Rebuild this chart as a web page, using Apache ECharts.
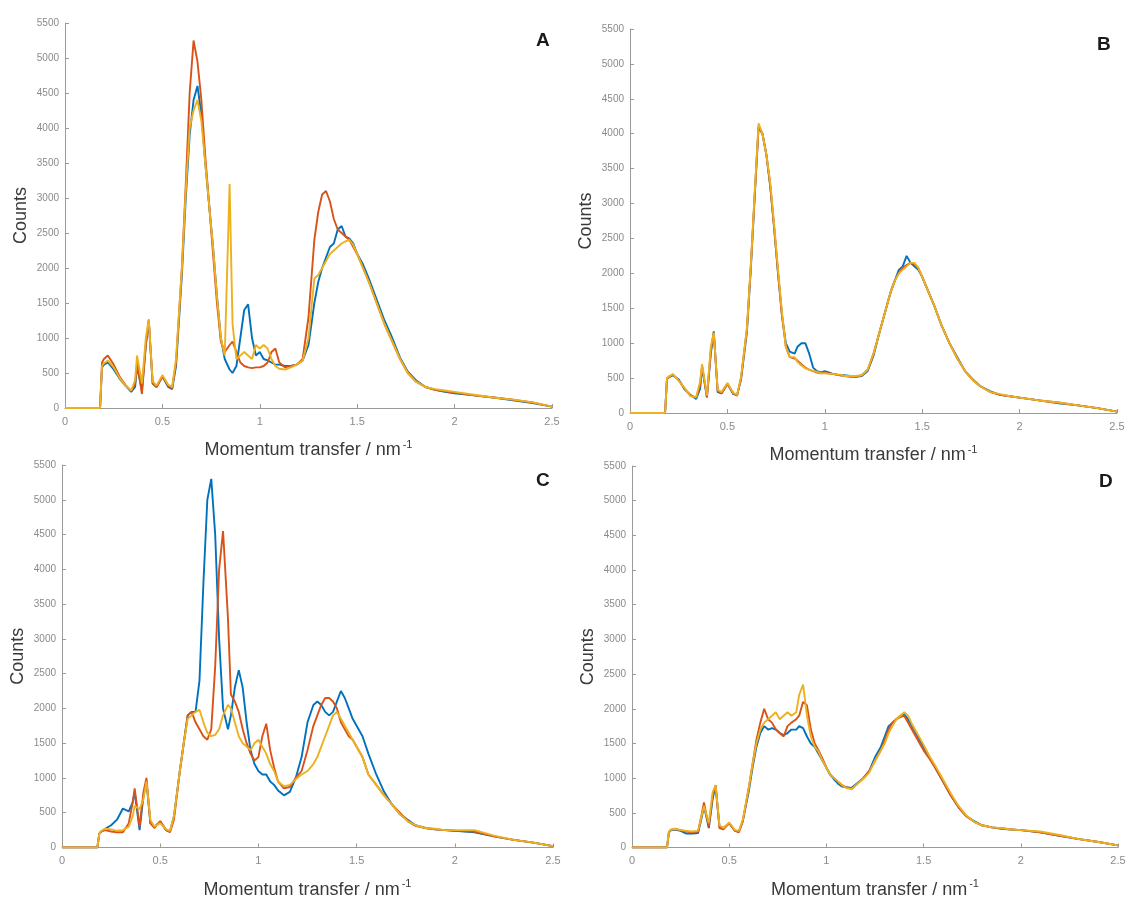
<html>
<head>
<meta charset="utf-8">
<title>Momentum transfer</title>
<script src="https://cdn.jsdelivr.net/npm/echarts/dist/echarts.min.js"></script>
</head>
<body style="margin:0;background:#fff">
<div id="chart" style="width:1130px;height:900px"></div>
<script type="text/javascript">
// momentum transfer grid (nm^-1), shared by all four panels
var q = [0, 0.18, 0.19, 0.20, 0.22, 0.25, 0.28, 0.31, 0.34, 0.36,
  0.37, 0.395, 0.415, 0.43, 0.45, 0.47, 0.50, 0.53, 0.55, 0.57,
  0.60, 0.62, 0.64, 0.66, 0.68, 0.70, 0.72, 0.74, 0.76, 0.78,
  0.80, 0.82, 0.845, 0.86, 0.88, 0.90, 0.92, 0.94, 0.96, 0.98,
  1.00, 1.02, 1.04, 1.06, 1.08, 1.10, 1.13, 1.16, 1.19, 1.22,
  1.25, 1.28, 1.30, 1.32, 1.34, 1.36, 1.38, 1.40, 1.42, 1.44,
  1.46, 1.48, 1.50, 1.53, 1.56, 1.60, 1.64, 1.68, 1.72, 1.76,
  1.80, 1.85, 1.90, 1.95, 2.00, 2.10, 2.20, 2.30, 2.40, 2.50];

// panel A
var aBlue = [0, 0, 580, 620, 650, 550, 420, 320, 230, 300,
  600, 250, 900, 1250, 350, 300, 450, 300, 270, 600,
  1900, 3000, 3900, 4400, 4600, 4200, 3500, 2900, 2300, 1600,
  1000, 700, 550, 500, 600, 1000, 1400, 1480, 1000, 750,
  800, 700, 680, 650, 620, 620, 600, 600, 620, 680,
  900, 1500, 1800, 2000, 2150, 2300, 2350, 2550, 2600, 2450,
  2420, 2350, 2200, 2050, 1850, 1550, 1250, 1000, 720, 520,
  400, 300, 260, 230, 210, 180, 150, 110, 70, 20];
var aRed = [0, 0, 650, 700, 750, 620, 450, 330, 240, 350,
  650, 200, 900, 1250, 350, 300, 450, 320, 280, 650,
  2000, 3200, 4500, 5250, 4950, 4400, 3600, 2900, 2200, 1500,
  950, 800, 900, 950, 800, 650, 600, 580, 570, 580,
  580, 600, 650, 800, 850, 650, 580, 600, 620, 700,
  1300, 2400, 2800, 3050, 3100, 2950, 2700, 2550, 2500, 2450,
  2400, 2300, 2200, 2000, 1800, 1500, 1200, 950, 700, 500,
  380, 300, 260, 240, 220, 180, 150, 120, 80, 20];
var aYellow = [0, 0, 600, 640, 680, 580, 430, 320, 250, 400,
  750, 350, 1000, 1270, 380, 320, 470, 330, 300, 700,
  2000, 3100, 4000, 4250, 4400, 4100, 3500, 2900, 2300, 1600,
  1000, 750, 3200, 1200, 700, 750, 800, 750, 700, 900,
  850, 900, 850, 700, 600, 560, 550, 580, 620, 680,
  1000, 1850, 1900, 2000, 2100, 2200, 2250, 2300, 2350, 2380,
  2400, 2330, 2200, 2000, 1800, 1500, 1200, 950, 700, 500,
  380, 300, 270, 250, 230, 190, 150, 120, 80, 20];

// panel B
var bBlue = [0, 0, 500, 520, 540, 480, 340, 260, 200, 350,
  650, 230, 850, 1170, 300, 280, 420, 270, 260, 480,
  1150, 2050, 3100, 4100, 4000, 3700, 3250, 2650, 2000, 1400,
  1000, 880, 850, 950, 1000, 1000, 850, 650, 600, 580,
  600, 580, 560, 550, 540, 540, 530, 520, 530, 600,
  820, 1150, 1350, 1550, 1750, 1900, 2050, 2100, 2250, 2150,
  2100, 2050, 1950, 1750, 1550, 1250, 1000, 800, 600, 480,
  380, 310, 260, 240, 220, 180, 140, 110, 70, 20];
var bRed = [0, 0, 480, 520, 550, 470, 350, 250, 220, 400,
  680, 220, 900, 1150, 320, 280, 420, 280, 250, 500,
  1200, 2100, 3100, 4100, 4000, 3700, 3250, 2650, 2000, 1400,
  950, 800, 780, 750, 700, 650, 620, 600, 580, 570,
  580, 570, 560, 550, 540, 530, 520, 520, 540, 620,
  850, 1150, 1350, 1550, 1750, 1900, 2000, 2080, 2120, 2150,
  2130, 2080, 1950, 1750, 1550, 1250, 1000, 780, 600, 470,
  380, 300, 260, 240, 220, 180, 150, 110, 70, 20];
var bYellow = [0, 0, 500, 510, 560, 460, 360, 240, 230, 450,
  700, 250, 950, 1150, 330, 300, 430, 290, 260, 520,
  1200, 2100, 3150, 4150, 4000, 3700, 3300, 2700, 2050, 1450,
  950, 800, 800, 730, 680, 640, 620, 600, 590, 570,
  570, 560, 560, 550, 550, 530, 530, 530, 540, 620,
  850, 1150, 1350, 1550, 1750, 1900, 2000, 2050, 2100, 2150,
  2150, 2080, 1950, 1750, 1550, 1250, 1000, 780, 600, 470,
  380, 300, 270, 240, 220, 180, 150, 110, 70, 20];

// panel C
var cBlue = [0, 0, 200, 230, 270, 320, 400, 560, 520, 650,
  800, 250, 750, 950, 350, 300, 370, 250, 230, 450,
  1100, 1500, 1900, 1950, 1950, 2400, 3800, 5000, 5300, 4500,
  3000, 2000, 1700, 1900, 2300, 2550, 2300, 1800, 1400, 1200,
  1100, 1050, 1050, 950, 900, 820, 750, 800, 1000, 1300,
  1800, 2050, 2100, 2050, 1950, 1900, 1950, 2100, 2250, 2150,
  2000, 1850, 1750, 1600, 1350, 1050, 800, 620, 480, 400,
  320, 280, 260, 250, 240, 220, 160, 110, 70, 20];
var cRed = [0, 0, 200, 230, 250, 230, 220, 220, 350, 650,
  850, 300, 800, 1000, 350, 280, 380, 250, 220, 400,
  1100, 1500, 1900, 1950, 1800, 1700, 1600, 1550, 1700, 2600,
  4000, 4550, 3300, 2200, 2100, 1950, 1700, 1500, 1350, 1250,
  1300, 1600, 1780, 1400, 1150, 950, 850, 870, 1000, 1100,
  1400, 1750, 1900, 2050, 2150, 2150, 2100, 2000, 1800, 1700,
  1600, 1550, 1450, 1300, 1050, 900, 750, 620, 500, 380,
  310, 280, 260, 250, 240, 230, 160, 110, 70, 20];
var cYellow = [0, 0, 200, 240, 270, 260, 240, 250, 300, 450,
  600, 550, 700, 950, 400, 300, 350, 260, 240, 450,
  1100, 1500, 1850, 1900, 1950, 1980, 1800, 1650, 1600, 1620,
  1700, 1900, 2050, 2000, 1800, 1600, 1500, 1450, 1400, 1500,
  1550, 1450, 1350, 1200, 1100, 950, 880, 900, 980, 1050,
  1100, 1200, 1300, 1450, 1600, 1750, 1900, 1950, 1850, 1750,
  1650, 1550, 1450, 1300, 1050, 900, 750, 620, 480, 380,
  320, 280, 270, 250, 250, 250, 170, 110, 70, 20];

// panel D
var dBlue = [0, 0, 220, 250, 260, 240, 200, 200, 210, 450,
  600, 280, 700, 900, 300, 280, 350, 240, 230, 380,
  800, 1150, 1450, 1650, 1750, 1700, 1720, 1700, 1650, 1620,
  1650, 1700, 1700, 1750, 1720, 1600, 1500, 1450, 1350, 1250,
  1150, 1050, 980, 920, 880, 870, 860, 930, 1000, 1100,
  1300, 1450, 1600, 1750, 1800, 1850, 1900, 1920, 1850, 1750,
  1650, 1550, 1450, 1300, 1150, 950, 750, 580, 450, 380,
  320, 290, 270, 260, 250, 220, 170, 120, 80, 30];
var dRed = [0, 0, 220, 250, 270, 250, 230, 220, 230, 500,
  650, 300, 750, 880, 280, 260, 350, 240, 220, 380,
  850, 1200, 1550, 1800, 2000, 1850, 1800, 1700, 1650, 1600,
  1750, 1800, 1850, 1900, 2100, 2050, 1700, 1500, 1400, 1280,
  1150, 1050, 1000, 950, 900, 870, 850, 920, 1000, 1100,
  1250, 1400, 1550, 1700, 1800, 1850, 1880, 1900, 1800, 1700,
  1600, 1500, 1400, 1280, 1150, 950, 750, 580, 450, 370,
  320, 290, 280, 260, 250, 220, 170, 120, 80, 30];
var dYellow = [0, 0, 230, 260, 270, 250, 240, 230, 240, 480,
  600, 350, 800, 900, 320, 280, 360, 250, 240, 400,
  850, 1200, 1500, 1700, 1800, 1850, 1900, 1950, 1850, 1900,
  1950, 1900, 1950, 2200, 2350, 1900, 1600, 1450, 1380, 1250,
  1150, 1050, 1000, 950, 900, 860, 840, 920, 990, 1080,
  1250, 1400, 1500, 1650, 1750, 1850, 1900, 1950, 1900, 1780,
  1680, 1580, 1480, 1320, 1180, 980, 780, 600, 460, 370,
  320, 290, 280, 260, 250, 230, 180, 120, 80, 30];

var panelNames = ['A', 'B', 'C', 'D'];
var panelData = [[aBlue, aRed, aYellow], [bBlue, bRed, bYellow],
  [cBlue, cRed, cYellow], [dBlue, dRed, dYellow]];
var lineColors = ['#0072BD', '#D95319', '#EDB120'];

var myChart = echarts.init(document.getElementById('chart'));

// plot boxes [left, top, width, height]
var boxes = [[65, 23, 487, 385], [630, 29, 487, 384], [62, 465, 491, 390], [632, 466, 486, 387]];
var letterPos = [[536, 31], [1097, 35], [536, 471], [1099, 472]];

var font = 'Liberation Sans, Arial, sans-serif';
var grids = [], xAxes = [], yAxes = [], series = [], titles = [];

for (var p = 0; p < 4; p++) {
  grids.push({left: boxes[p][0], top: boxes[p][1], width: boxes[p][2], height: boxes[p][3], containLabel: false});
  xAxes.push({
    gridIndex: p, type: 'value', min: 0, max: 2.5, interval: 0.5,
    name: 'Momentum transfer / nm{sup|-1}',
    nameLocation: 'middle', nameGap: 31,
    nameTextStyle: {fontFamily: font, fontSize: 18, color: '#3a3a3a',
      rich: {sup: {fontFamily: font, fontSize: 11, color: '#3a3a3a', padding: [0, 0, 12, 2]}}},
    axisLine: {show: true, lineStyle: {color: '#9a9a9a', width: 1}},
    axisTick: {show: true, inside: true, length: 4, lineStyle: {color: '#9a9a9a'}},
    axisLabel: {fontFamily: font, fontSize: 11, color: '#8a8a8a', margin: 8},
    splitLine: {show: false}
  });
  yAxes.push({
    gridIndex: p, type: 'value', min: 0, max: 5500, interval: 500,
    name: 'Counts', nameLocation: 'middle', nameGap: 35, nameRotate: 90,
    nameTextStyle: {fontFamily: font, fontSize: 18, color: '#3a3a3a'},
    axisLine: {show: true, lineStyle: {color: '#9a9a9a', width: 1}},
    axisTick: {show: true, inside: true, length: 4, lineStyle: {color: '#9a9a9a'}},
    axisLabel: {fontFamily: font, fontSize: 10, color: '#8a8a8a', margin: 6,
      formatter: function (v) { return String(v); }},
    splitLine: {show: false}
  });
  titles.push({
    text: panelNames[p], left: letterPos[p][0], top: letterPos[p][1], padding: 0,
    textStyle: {fontFamily: font, fontSize: 19, fontWeight: 'bold', color: '#1a1a1a'}
  });
  for (var s = 0; s < 3; s++) {
    var vals = panelData[p][s];
    var pts = [];
    for (var i = 0; i < q.length; i++) {
      pts.push([q[i], vals[i]]);
    }
    series.push({
      type: 'line', xAxisIndex: p, yAxisIndex: p,
      showSymbol: false, symbol: 'none', animation: false,
      lineStyle: {color: lineColors[s], width: 1.9},
      data: pts
    });
  }
}

var option = {
  backgroundColor: '#ffffff',
  animation: false,
  title: titles,
  grid: grids,
  xAxis: xAxes,
  yAxis: yAxes,
  series: series
};
myChart.setOption(option);
</script>
</body>
</html>
